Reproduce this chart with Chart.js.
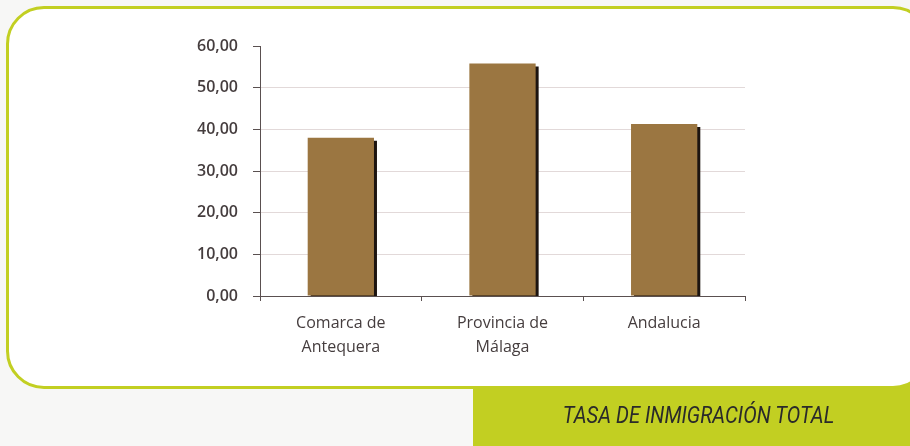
<!DOCTYPE html>
<html>
<head>
<meta charset="utf-8">
<script src="https://cdn.jsdelivr.net/npm/chart.js@4.4.1/dist/chart.umd.min.js"></script>
<style>
  html, body { margin:0; padding:0; width:910px; height:446px; overflow:hidden; background:#f7f7f6; }
  #green { position:absolute; left:473px; top:340px; width:437px; height:106px; background:#c2cf22; z-index:0; }
  #frame { position:absolute; left:6px; top:6px; width:919px; height:377px; background:#fff; border:3px solid #c2cf22; border-radius:38px; z-index:1; }
  #title { position:absolute; left:473px; top:389px; width:437px; height:57px; line-height:54px; text-align:center;
           font-family:"Roboto",sans-serif; font-style:italic; font-weight:400; font-size:23px; color:#2a2a2a; z-index:3;
           padding-left:16px; box-sizing:border-box; transform:scaleX(0.88); }
  #c { position:absolute; left:0; top:0; z-index:2; }
</style>
</head>
<body>
<div id="green"></div>
<div id="frame"></div>
<div id="title">TASA DE INMIGRACIÓN TOTAL</div>
<canvas id="c" width="910" height="446"></canvas>
<script>
const categories = [["Comarca de", "Antequera"], ["Provincia de", "Málaga"], ["Andalucia"]];
const values = [38.0, 55.8, 41.3];
const yTickValues = [0, 10, 20, 30, 40, 50, 60];

const axisColor = '#5a5050';
const textColor = '#453d3e';

const shadowPlugin = {
  id: 'barShadow',
  beforeDatasetsDraw(chart) {
    const ctx = chart.ctx;
    ctx.save();
    ctx.shadowColor = '#1c1410';
    ctx.shadowOffsetX = 3;
    ctx.shadowOffsetY = 3;
    ctx.shadowBlur = 0;
  },
  afterDatasetsDraw(chart) {
    chart.ctx.restore();
  }
};

new Chart(document.getElementById('c'), {
  type: 'bar',
  data: {
    labels: categories,
    datasets: [{
      data: values,
      backgroundColor: '#9b7641',
      borderWidth: 0,
      barPercentage: 0.41,
      categoryPercentage: 1.0
    }]
  },
  options: {
    responsive: false,
    animation: false,
    devicePixelRatio: 1,
    layout: { padding: { left: 0, right: 165, top: 46, bottom: 0 } },
    plugins: { legend: { display: false }, tooltip: { enabled: false } },
    scales: {
      x: {
        afterFit(scale) { scale.height = 150; },
        grid: { display: true, drawOnChartArea: false, drawTicks: true, tickLength: 5, tickColor: axisColor, offset: true },
        border: { display: true, color: axisColor, width: 1 },
        ticks: { color: textColor, padding: 10, font: { family: '"Open Sans", sans-serif', size: 16, weight: '500', lineHeight: 1.5 } }
      },
      y: {
        min: 0, max: 60,
        afterFit(scale) { scale.width = 260; },
        afterBuildTicks(scale) { scale.ticks = yTickValues.map(v => ({ value: v })); },
        grid: {
          color: (ctx) => (ctx.tick && (ctx.tick.value === 60 || ctx.tick.value === 0)) ? 'rgba(0,0,0,0)' : '#e2d9d9',
          tickColor: axisColor, tickLength: 7, lineWidth: 1
        },
        border: { display: true, color: axisColor, width: 1 },
        ticks: {
          color: textColor, padding: 15,
          font: { family: '"Open Sans", sans-serif', size: 16, weight: '600' },
          callback: (v) => Number(v).toFixed(2).replace('.', ',')
        }
      }
    }
  },
  plugins: [shadowPlugin]
});
</script>
</body>
</html>
